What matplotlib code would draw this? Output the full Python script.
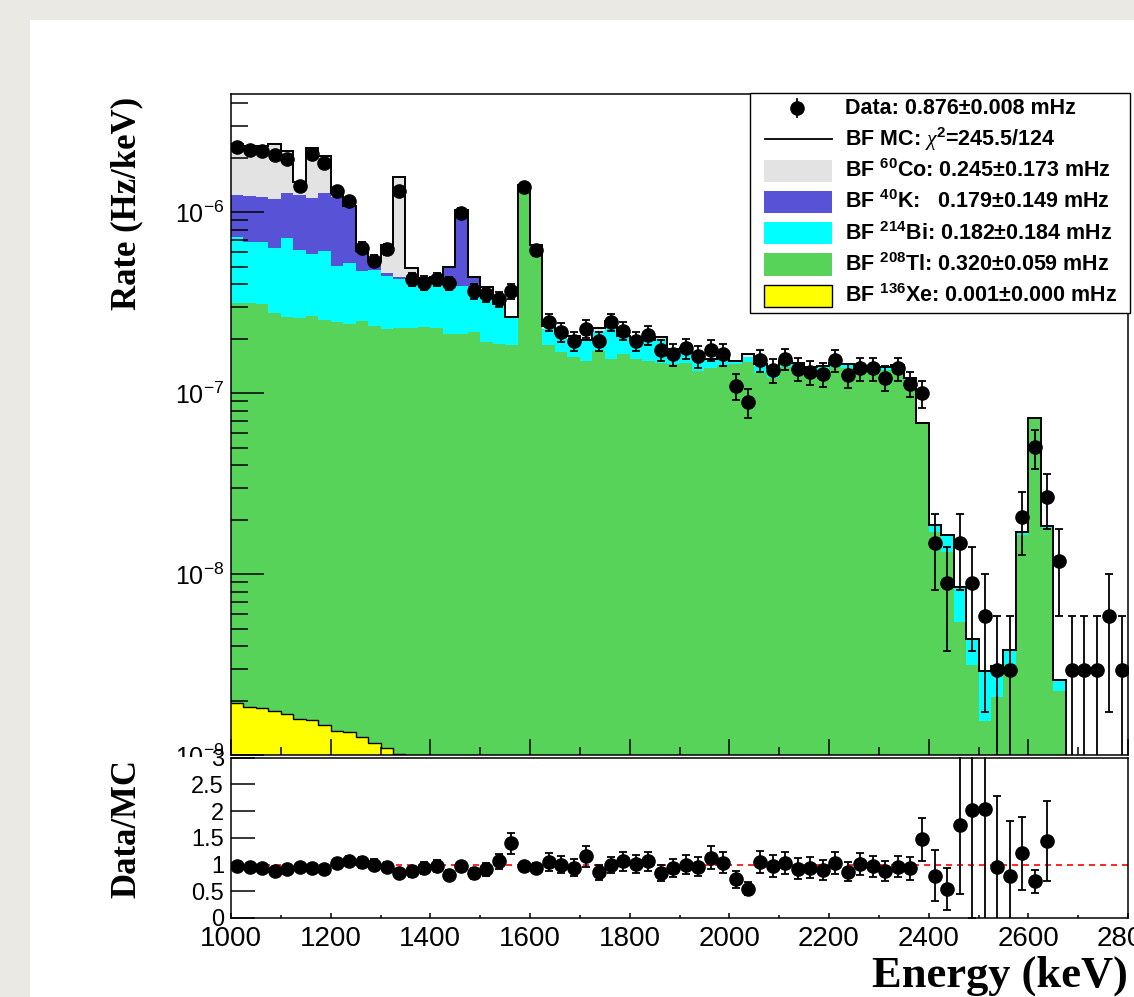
import numpy as np
import matplotlib
matplotlib.use("Agg")
import matplotlib.pyplot as plt
from matplotlib.patches import Rectangle
from matplotlib.lines import Line2D
from matplotlib.ticker import MultipleLocator, LogLocator, NullFormatter, FuncFormatter, FixedLocator

plt.rcParams['font.family'] = ['Liberation Sans', 'DejaVu Sans']
plt.rcParams['mathtext.fontset'] = 'custom'
plt.rcParams['mathtext.rm'] = 'Liberation Sans'
plt.rcParams['mathtext.it'] = 'Liberation Serif:italic'
plt.rcParams['mathtext.bf'] = 'Liberation Sans:bold'
plt.rcParams['mathtext.default'] = 'regular'

# binning (keV)
e_lo, e_hi, bin_w = 1000, 2800, 25

# rates in units of 1e-7 Hz/keV, one value per 25 keV bin
data = [23.0, 22.0, 21.8, 20.6, 19.8, 13.9, 21.1, 18.7, 13.1, 11.6,
        6.38, 5.38, 6.25, 13.1, 4.26, 4.07, 4.26, 4.04, 9.96, 3.66,
        3.51, 3.31, 3.66, 13.8, 6.17, 2.48, 2.18, 1.95, 2.27, 1.95,
        2.48, 2.21, 1.95, 2.09, 1.73, 1.64, 1.77, 1.60, 1.73, 1.64,
        1.09, 0.895, 1.52, 1.34, 1.55, 1.36, 1.31, 1.27, 1.52, 1.26,
        1.37, 1.37, 1.22, 1.37, 1.13, 1.00, 0.148, 0.089, 0.148, 0.089,
        0.059, 0.0295, 0.0295, 0.206, 0.501, 0.267, 0.118, 0.0295, 0.0295, 0.0295,
        0.059, 0.0295]

# stacked MC: top edge of each layer (cumulative)
mc_total = [23.8, 23.2, 23.2, 23.7, 21.8, 14.6, 22.7, 20.5, 12.7, 10.8,
            6.13, 5.38, 6.58, 15.7, 4.90, 4.33, 4.39, 4.97, 10.3, 4.37,
            3.86, 3.12, 2.62, 14.2, 6.56, 2.36, 2.18, 2.07, 1.97, 2.28,
            2.50, 2.08, 1.93, 1.97, 2.04, 1.76, 1.77, 1.67, 1.54, 1.59,
            1.51, 1.64, 1.45, 1.38, 1.50, 1.47, 1.40, 1.42, 1.47, 1.45,
            1.36, 1.42, 1.40, 1.43, 1.22, 0.68, 0.187, 0.164, 0.085, 0.044,
            0.029, 0.031, 0.038, 0.170, 0.73, 0.185, 0.026, 0, 0, 0,
            0, 0]

k40_top = [12.5, 12.3, 12.15, 11.8, 12.8, 12.4, 12.0, 12.7, 12.15, 10.7,
           6.1, 5.38, 4.6, 4.4, 4.31, 4.25, 4.2, 4.97, 10.3, 4.37,
           3.6, 3.12, 2.60, 14.1, 6.50, 2.25, 2.14, 1.96, 1.95, 2.20,
           2.35, 2.05, 1.90, 1.93, 1.98, 1.72, 1.72, 1.62, 1.52, 1.55,
           1.50, 1.58, 1.42, 1.36, 1.48, 1.45, 1.38, 1.40, 1.45, 1.43,
           1.34, 1.40, 1.38, 1.42, 1.20, 0.68, 0.187, 0.164, 0.085, 0.044,
           0.029, 0.031, 0.038, 0.170, 0.73, 0.185, 0.026, 0, 0, 0,
           0, 0]

bi214_top = [7.31, 6.86, 6.86, 6.35, 7.16, 6.22, 5.84, 6.09, 5.03, 5.27,
             4.74, 4.78, 4.45, 4.25, 4.20, 4.12, 4.04, 3.90, 3.90, 3.87,
             3.30, 3.05, 2.60, 14.1, 6.50, 2.25, 2.14, 1.96, 1.95, 2.20,
             2.35, 2.05, 1.90, 1.93, 1.98, 1.72, 1.72, 1.62, 1.52, 1.55,
             1.50, 1.58, 1.42, 1.36, 1.48, 1.45, 1.38, 1.40, 1.45, 1.43,
             1.34, 1.40, 1.38, 1.42, 1.20, 0.68, 0.187, 0.164, 0.085, 0.044,
             0.029, 0.031, 0.038, 0.170, 0.73, 0.185, 0.026, 0, 0, 0,
             0, 0]

tl208_top = [3.13, 3.13, 3.10, 2.78, 2.64, 2.59, 2.66, 2.53, 2.46, 2.41,
             2.50, 2.35, 2.26, 2.30, 2.28, 2.31, 2.30, 2.11, 2.13, 2.18,
             1.91, 1.87, 1.84, 14.0, 6.40, 1.84, 1.69, 1.59, 1.51, 1.70,
             1.55, 1.64, 1.55, 1.50, 1.47, 1.44, 1.47, 1.33, 1.37, 1.43,
             1.45, 1.48, 1.30, 1.22, 1.40, 1.38, 1.33, 1.30, 1.40, 1.38,
             1.30, 1.36, 1.34, 1.38, 1.18, 0.68, 0.170, 0.133, 0.054, 0.0316,
             0.0155, 0.021, 0.032, 0.164, 0.72, 0.180, 0.0227, 0, 0, 0,
             0, 0]

xe136 = [0.0193, 0.0185, 0.0183, 0.0175, 0.0168, 0.0159, 0.0156, 0.0146, 0.0136, 0.0134,
         0.0125, 0.0117, 0.0109, 0.0101] + [0] * 58

# one observed count corresponds to this rate (Hz/keV)
count_unit = 2.95e-9

legend_labels = [
    "Data: 0.876\u00b10.008 mHz",
    r"BF MC: $\mathit{\chi}^{2}$=245.5/124",
    "BF ${}^{60}$Co: 0.245\u00b10.173 mHz",
    "BF ${}^{40}$K:   0.179\u00b10.149 mHz",
    "BF ${}^{214}$Bi: 0.182\u00b10.184 mHz",
    "BF ${}^{208}$Tl: 0.320\u00b10.059 mHz",
    "BF ${}^{136}$Xe: 0.001\u00b10.000 mHz",
]
layer_colors = ['#e3e3e3', '#5852d6', '#00ffff', '#57d35a', '#ffff00']

# ---------------------------------------------------------------
W, H = 1134, 997
def fx(x):
    return x / W
def fy(y):
    return 1 - y / H

tiny = 1e-12
edges = np.arange(e_lo, e_hi + bin_w, bin_w)
centers = 0.5 * (edges[:-1] + edges[1:])
scale = 1e-7
d = np.array(data) * scale
mc = np.array(mc_total) * scale
tops = [np.maximum(np.array(a) * scale, tiny) for a in (mc_total, k40_top, bi214_top, tl208_top, xe136)]

fig = plt.figure(figsize=(W / 100, H / 100), dpi=100, facecolor='#ebe9e4')
fig.add_artist(Rectangle((fx(30), 0), 1 - fx(30), fy(20), transform=fig.transFigure,
                         facecolor='white', edgecolor='none', zorder=-1))

ax = fig.add_axes([fx(231), fy(755), (1128 - 231) / W, (755 - 94) / H])
ax.set_zorder(1)

# stack: draw from the total down so each layer covers the previous one
for top, col in zip(tops, layer_colors):
    ax.stairs(top, edges, baseline=tiny, fill=True, color=col, lw=0)
ax.stairs(tops[4], edges, baseline=None, color='black', lw=1.0)
ax.stairs(tops[0], edges, baseline=None, color='black', lw=1.4)

n_data = d / count_unit
err = np.sqrt(n_data) * count_unit
lo = np.maximum(d - err, tiny)
ax.vlines(centers, lo, d + err, color='black', lw=1.3, zorder=4)
ax.plot(centers, d + err, ls='none', marker='_', ms=6, mew=1.3, color='black', zorder=4)
ax.plot(centers, lo, ls='none', marker='_', ms=6, mew=1.3, color='black', zorder=4)
ax.plot(centers, d, ls='none', marker='o', ms=9.5, color='black', zorder=5)

ax.set_xlim(e_lo, e_hi)
ax.set_yscale('log')
ax.set_ylim(1e-9, 4.5e-6)
ax.xaxis.set_major_locator(MultipleLocator(200))
ax.xaxis.set_minor_locator(MultipleLocator(100))
ax.yaxis.set_major_locator(FixedLocator([1e-9, 1e-8, 1e-7, 1e-6]))
ax.yaxis.set_minor_locator(LogLocator(base=10, subs=np.arange(2, 10), numticks=20))
ax.yaxis.set_minor_formatter(NullFormatter())
ax.yaxis.set_major_formatter(FuncFormatter(lambda v, p: r"$10^{%d}$" % round(np.log10(v))))
ax.tick_params(axis='x', which='major', direction='in', length=11.5, width=1.1,
               top=False, labelbottom=False)
ax.tick_params(axis='x', which='minor', direction='in', length=5.5, width=1.1, top=False)
ax.tick_params(axis='y', which='major', direction='in', length=24, width=1.1,
               right=False, labelsize=18, pad=5)
ax.tick_params(axis='y', which='minor', direction='in', length=12, width=1.1, right=False)
for s in ax.spines.values():
    s.set_linewidth(1.1)

# white lower pad hides what hangs below the upper one
fig.add_artist(Rectangle((fx(30), 0), 1 - fx(30), fy(757), transform=fig.transFigure,
                         facecolor='white', edgecolor='none', zorder=2))

rx = fig.add_axes([fx(231), fy(918), (1128 - 231) / W, (918 - 757.5) / H])
rx.set_zorder(3)
ratio = np.full(len(d), np.nan)
ok = mc > 0
ratio[ok] = d[ok] / mc[ok]
rerr = np.full(len(d), np.nan)
rerr[ok] = ratio[ok] * np.sqrt(1 / n_data[ok] + count_unit / mc[ok])
show = ok & (ratio <= 3)
rx.axhline(1, color='red', lw=1.2, ls=(0, (3.6, 3.0)), zorder=1)
rx.vlines(centers[show], ratio[show] - rerr[show], ratio[show] + rerr[show], color='black', lw=1.3, zorder=3)
rx.plot(centers[show], ratio[show] + rerr[show], ls='none', marker='_', ms=6, mew=1.3, color='black', zorder=3)
rx.plot(centers[show], ratio[show] - rerr[show], ls='none', marker='_', ms=6, mew=1.3, color='black', zorder=3)
rx.plot(centers[show], ratio[show], ls='none', marker='o', ms=9.5, color='black', zorder=4)
rx.set_xlim(e_lo, e_hi)
rx.set_ylim(0, 3)
rx.xaxis.set_major_locator(MultipleLocator(200))
rx.xaxis.set_minor_locator(MultipleLocator(100))
rx.yaxis.set_major_locator(MultipleLocator(0.5))
rx.yaxis.set_major_formatter(FuncFormatter(lambda v, p: f"{v:g}"))
rx.tick_params(axis='x', which='major', direction='in', length=3.6, width=1.1, top=False,
               labelsize=20, pad=6)
rx.tick_params(axis='x', which='minor', direction='in', length=2, width=1.1, top=False)
rx.tick_params(axis='y', which='major', direction='in', length=17, width=1.1, right=False,
               labelsize=17, pad=5)
for s in rx.spines.values():
    s.set_linewidth(1.1)

# axis titles
serif = dict(family=['Liberation Serif', 'DejaVu Serif'], fontweight='bold', zorder=6)
fig.text(fx(127), fy(203), "Rate (Hz/keV)", rotation=90, ha='center', va='center', fontsize=25, **serif)
fig.text(fx(127), fy(828), "Data/MC", rotation=90, ha='center', va='center', fontsize=25, **serif)
fig.text(fx(1128), fy(987), "Energy (keV)", ha='right', va='baseline', fontsize=32, **serif)

# legend box
fig.add_artist(Rectangle((fx(750), fy(313)), (1130 - 750) / W, (313 - 93) / H, transform=fig.transFigure,
                         facecolor='white', edgecolor='black', lw=1.0, zorder=7))
row_y = [108 + 31.3 * i for i in range(len(legend_labels))]
tf = fig.transFigure
fig.add_artist(Line2D([fx(797)], [fy(row_y[0])], marker='o', ms=9.5, color='black', ls='none',
                      transform=tf, zorder=8))
fig.add_artist(Line2D([fx(797), fx(797)], [fy(row_y[0] - 9), fy(row_y[0] + 9)], color='black', lw=1.3,
                      transform=tf, zorder=8))
fig.add_artist(Line2D([fx(765), fx(832)], [fy(row_y[1]), fy(row_y[1])], color='black', lw=1.3,
                      transform=tf, zorder=8))
for yy, col in zip(row_y[2:], layer_colors):
    edge = 'black' if col == '#ffff00' else 'none'
    fig.add_artist(Rectangle((fx(764), fy(yy + 11)), 68 / W, 22 / H, transform=tf,
                             facecolor=col, edgecolor=edge, lw=1.0, zorder=8))
for yy, lab in zip(row_y, legend_labels):
    fig.text(fx(845), fy(yy), lab, ha='left', va='center', fontsize=15.5, fontweight='bold', zorder=9)

fig.savefig("out.png", dpi=100, facecolor=fig.get_facecolor())
